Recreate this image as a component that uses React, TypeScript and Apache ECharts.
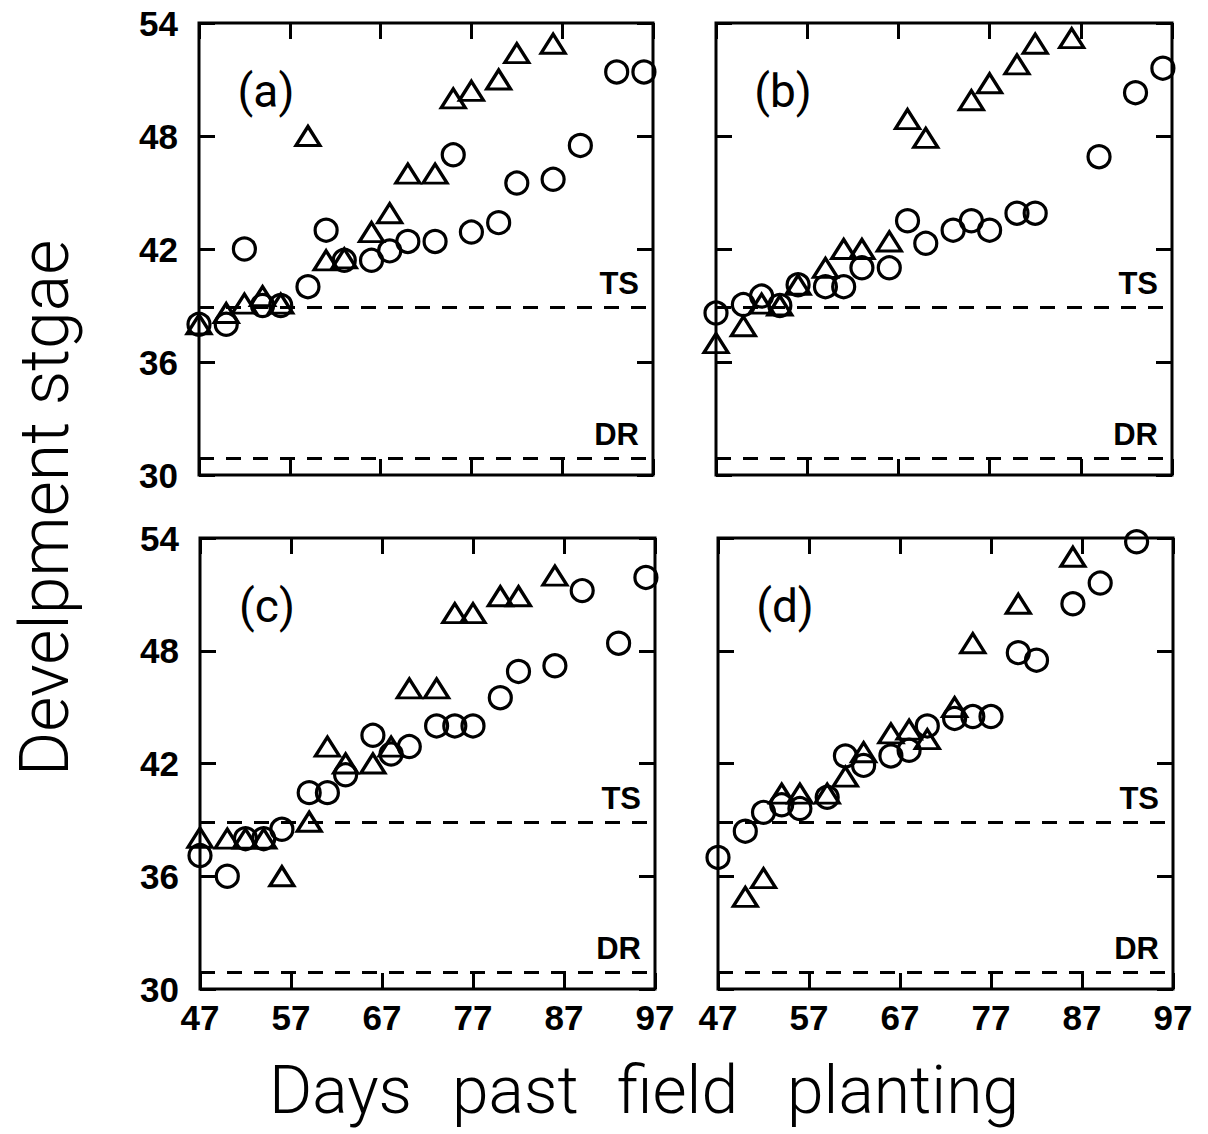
import React, { useEffect, useRef } from "react";
import * as echarts from "echarts";

// ---- Data ----
const xTickLabels = ["47", "57", "67", "77", "87", "97"];
const yTickLabels = ["30", "36", "42", "48", "54"];
const panelNames = ["(a)", "(b)", "(c)", "(d)"];
const TS_STAGE = 38.9;
const DR_STAGE = 30.9;

const aCircleDays = [47, 50, 52, 54, 56, 59, 61, 63, 66, 68, 70, 73, 75, 77, 80, 82, 86, 89, 93, 96];
const aCircle = [38.0, 38.0, 42.0, 39.0, 39.0, 40.0, 43.0, 41.4, 41.4, 41.9, 42.4, 42.4, 47.0, 42.9, 43.4, 45.5, 45.7, 47.5, 51.4, 51.4];
const aTriDays = [47, 50, 52, 54, 56, 59, 61, 63, 66, 68, 70, 73, 75, 77, 80, 82, 86];
const aTri = [38.0, 38.6, 39.1, 39.5, 39.1, 48.0, 41.4, 41.5, 42.9, 43.9, 46.0, 46.0, 50.0, 50.4, 51.0, 52.4, 52.9];

const bCircleDays = [47, 50, 52, 54, 56, 59, 61, 63, 66, 68, 70, 73, 75, 77, 80, 82, 89, 93, 96];
const bCircle = [38.6, 39.05, 39.5, 39.0, 40.1, 40.0, 40.0, 41.0, 41.0, 43.5, 42.3, 43.0, 43.5, 43.0, 43.9, 43.9, 46.9, 50.3, 51.6];
const bTriDays = [47, 50, 52, 54, 56, 59, 61, 63, 66, 68, 70, 75, 77, 80, 82, 86];
const bTri = [37.0, 37.9, 39.1, 39.0, 40.1, 41.0, 42.0, 42.0, 42.4, 48.9, 47.9, 49.9, 50.8, 51.8, 52.9, 53.2];

const cCircleDays = [47, 50, 52, 54, 56, 59, 61, 63, 66, 68, 70, 73, 75, 77, 80, 82, 86, 89, 93, 96];
const cCircle = [37.1, 36.0, 38.0, 38.0, 38.5, 40.45, 40.45, 41.4, 43.5, 42.5, 42.9, 44.0, 44.0, 44.0, 45.5, 46.9, 47.2, 51.2, 48.4, 51.9];
const cTriDays = [47, 50, 52, 54, 56, 59, 61, 63, 66, 68, 70, 73, 75, 77, 80, 82, 86];
const cTri = [38.05, 38.0, 38.0, 38.0, 36.0, 38.9, 42.9, 42.0, 42.0, 42.9, 46.0, 46.0, 50.0, 50.0, 50.9, 50.9, 52.0];

const dCircleDays = [47, 50, 52, 54, 56, 59, 61, 63, 66, 68, 70, 73, 75, 77, 80, 82, 86, 89, 93];
const dCircle = [37.0, 38.4, 39.4, 39.8, 39.6, 40.2, 42.4, 41.9, 42.4, 42.7, 44.0, 44.4, 44.5, 44.5, 47.9, 47.5, 50.5, 51.6, 53.8];
const dTriDays = [50, 52, 54, 56, 59, 61, 63, 66, 68, 70, 73, 75, 80, 86];
const dTri = [34.9, 35.9, 40.4, 40.4, 40.4, 41.3, 42.6, 43.6, 43.8, 43.3, 45.0, 48.4, 50.5, 53.0];

const xTitleWords = ["Days", "past", "field", "planting"];
const yTitle = "Develpment stgae";

// ---- Layout ----
const GRIDS = [
  { left: 199, top: 23, width: 454, height: 452 },
  { left: 716, top: 23, width: 456, height: 452 },
  { left: 200, top: 538, width: 455, height: 451 },
  { left: 718, top: 538, width: 455, height: 451 },
];
const xWordLeft = [269, 452, 617, 787];

const zip = (xs: number[], ys: number[]) => xs.map((x, i) => [x, ys[i]]);

const PANEL_DATA = [
  { cx: aCircleDays, cy: aCircle, tx: aTriDays, ty: aTri },
  { cx: bCircleDays, cy: bCircle, tx: bTriDays, ty: bTri },
  { cx: cCircleDays, cy: cCircle, tx: cTriDays, ty: cTri },
  { cx: dCircleDays, cy: dCircle, tx: dTriDays, ty: dTri },
];

const X_MIN = Number(xTickLabels[0]);
const X_MAX = Number(xTickLabels[xTickLabels.length - 1]);
const X_STEP = Number(xTickLabels[1]) - X_MIN;
const Y_MIN = Number(yTickLabels[0]);
const Y_MAX = Number(yTickLabels[yTickLabels.length - 1]);
const Y_STEP = Number(yTickLabels[1]) - Y_MIN;

const tickFont = {
  color: "#000",
  fontSize: 35,
  fontWeight: "bold" as const,
  fontFamily: "Liberation Sans",
};

function buildOption() {
  const grid: any[] = [];
  const xAxis: any[] = [];
  const yAxis: any[] = [];
  const series: any[] = [];
  const graphic: any[] = [];

  GRIDS.forEach((g, i) => {
    grid.push({
      ...g,
      show: true,
      borderColor: "#000",
      borderWidth: 3,
      backgroundColor: "transparent",
      containLabel: false,
    });
    const showX = i >= 2;
    const showY = i % 2 === 0;
    const tick = { show: true, inside: true, length: 16, lineStyle: { color: "#000", width: 3 } };
    ["bottom", "top"].forEach((pos, k) => {
      xAxis.push({
        gridIndex: i,
        type: "value",
        position: pos,
        min: X_MIN,
        max: X_MAX,
        interval: X_STEP,
        axisLine: { show: false },
        axisTick: tick,
        splitLine: { show: false },
        axisLabel: {
          show: showX && k === 0,
          margin: 11,
          showMinLabel: true,
          showMaxLabel: true,
          ...tickFont,
        },
      });
    });
    ["left", "right"].forEach((pos, k) => {
      yAxis.push({
        gridIndex: i,
        type: "value",
        position: pos,
        min: Y_MIN,
        max: Y_MAX,
        interval: Y_STEP,
        axisLine: { show: false },
        axisTick: tick,
        splitLine: { show: false },
        axisLabel: {
          show: showY && k === 0,
          margin: 21,
          showMinLabel: true,
          showMaxLabel: true,
          ...tickFont,
        },
      });
    });

    const d = PANEL_DATA[i];
    const markerStyle = { color: "rgba(0,0,0,0)", borderColor: "#000", borderWidth: 3.2, opacity: 1 };
    series.push({
      type: "scatter",
      xAxisIndex: 2 * i,
      yAxisIndex: 2 * i,
      symbol: "circle",
      symbolSize: 22,
      clip: false,
      silent: true,
      itemStyle: markerStyle,
      data: zip(d.cx, d.cy),
      markLine: {
        silent: true,
        symbol: "none",
        lineStyle: { color: "#000", width: 3, type: [15, 12], opacity: 1 },
        label: {
          show: true,
          position: "insideEndTop",
          distance: [14, 8],
          ...tickFont,
          fontSize: 31,
        },
        data: [
          { yAxis: TS_STAGE, label: { formatter: "TS" } },
          { yAxis: DR_STAGE, label: { formatter: "DR" } },
        ],
      },
    });
    series.push({
      type: "scatter",
      xAxisIndex: 2 * i,
      yAxisIndex: 2 * i,
      symbol: "triangle",
      symbolSize: [24, 19],
      clip: false,
      silent: true,
      itemStyle: markerStyle,
      data: zip(d.tx, d.ty),
    });

    graphic.push({
      type: "text",
      x: g.left + 67,
      y: g.top + 68,
      style: {
        text: panelNames[i],
        font: "400 46px Roboto",
        fill: "#000",
        textAlign: "center",
        textVerticalAlign: "middle",
      },
    });
  });

  xTitleWords.forEach((w, i) => {
    graphic.push({
      type: "text",
      x: xWordLeft[i],
      y: 1090,
      style: {
        text: w,
        font: "300 66px Roboto",
        fill: "#000",
        textAlign: "left",
        textVerticalAlign: "middle",
      },
    });
  });

  graphic.push({
    type: "text",
    x: 45,
    y: 508,
    rotation: Math.PI / 2,
    style: {
      text: yTitle,
      font: "300 68px Roboto",
      fill: "#000",
      textAlign: "center",
      textVerticalAlign: "middle",
    },
  });

  return {
    animation: false,
    backgroundColor: "#fff",
    grid,
    xAxis,
    yAxis,
    series,
    graphic,
  };
}

export default function App() {
  const ref = useRef<HTMLDivElement>(null);
  useEffect(() => {
    if (!ref.current) return;
    const chart = echarts.init(ref.current, undefined, { renderer: "svg" });
    chart.setOption(buildOption() as any);
    return () => chart.dispose();
  }, []);
  return (
    <div
      ref={ref}
      style={{ position: "absolute", left: 0, top: 0, width: 1208, height: 1134, background: "#fff" }}
    />
  );
}
